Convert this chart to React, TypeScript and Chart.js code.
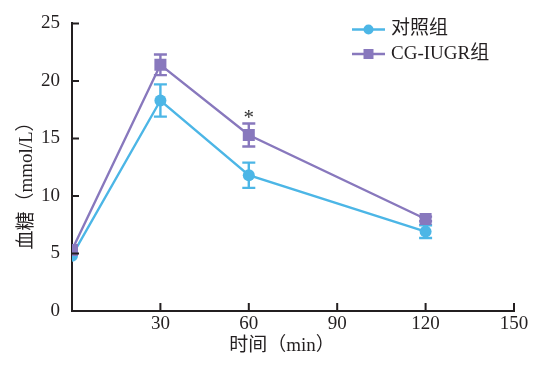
import React, { useEffect, useRef } from "react";
import { Chart, registerables } from "chart.js";

Chart.register(...registerables);

const timePoints = [0, 30, 60, 120];
const controlMean = [4.8, 18.3, 11.8, 6.9];
const controlSD = [0, 1.4, 1.1, 0.55];
const iugrMean = [5.3, 21.4, 15.3, 8.0];
const iugrSD = [0, 0.9, 1.0, 0.2];
const seriesNames = ["对照组", "CG-IUGR组"];
const xTicks = [30, 60, 90, 120, 150];
const yTicks = [0, 5, 10, 15, 20, 25];
const xTitle = "时间（min）";
const yTitle = "血糖（mmol/L）";
const starAt = { x: 60, y: 17.0, text: "*" };

const BLUE = "#4cb6e6";
const PURPLE = "#8878bd";
const INK = "#231f20";
const SERIF = "'Liberation Serif', 'Noto Sans CJK SC', serif";
const CJK = "'Liberation Serif', 'Noto Sans CJK SC', serif";

export default function App() {
  const ref = useRef<HTMLCanvasElement | null>(null);
  useEffect(() => {
    const canvas = ref.current!;
    const sdMap = [controlSD, iugrSD];

    const overlay = {
      id: "overlay",
      beforeDatasetsDraw(chart: any) {
        const ctx = chart.ctx;
        const xs = chart.scales.x;
        const ys = chart.scales.y;
        chart.data.datasets.forEach((ds: any, i: number) => {
          const sd = sdMap[i];
          ctx.save();
          ctx.strokeStyle = ds.borderColor;
          ctx.lineWidth = 2.4;
          ds.data.forEach((p: any, j: number) => {
            if (!sd[j]) return;
            const px = xs.getPixelForValue(p.x);
            const top = ys.getPixelForValue(p.y + sd[j]);
            const bot = ys.getPixelForValue(p.y - sd[j]);
            ctx.beginPath();
            ctx.moveTo(px, top);
            ctx.lineTo(px, bot);
            ctx.moveTo(px - 6.5, top);
            ctx.lineTo(px + 6.5, top);
            ctx.moveTo(px - 6.5, bot);
            ctx.lineTo(px + 6.5, bot);
            ctx.stroke();
          });
          ctx.restore();
        });
      },
      afterDraw(chart: any) {
        const ctx = chart.ctx;
        const xs = chart.scales.x;
        const ys = chart.scales.y;
        const area = chart.chartArea;
        ctx.save();
        // inward ticks
        ctx.strokeStyle = INK;
        ctx.lineWidth = 2;
        ctx.beginPath();
        yTicks.forEach((v) => {
          if (v === 0) return;
          const py = ys.getPixelForValue(v);
          ctx.moveTo(area.left, py);
          ctx.lineTo(area.left + 7, py);
        });
        xTicks.forEach((v) => {
          const px = xs.getPixelForValue(v);
          ctx.moveTo(px, area.bottom);
          ctx.lineTo(px, area.bottom - 8);
        });
        ctx.stroke();

        // asterisk
        ctx.fillStyle = "#333";
        ctx.font = `21px ${SERIF}`;
        ctx.textAlign = "center";
        ctx.textBaseline = "middle";
        ctx.fillText(starAt.text, xs.getPixelForValue(starAt.x), ys.getPixelForValue(starAt.y) + 3);

        // titles
        ctx.fillStyle = INK;
        ctx.font = `19px ${CJK}`;
        ctx.fillText(xTitle, 282, 346);
        ctx.save();
        ctx.translate(27, 181);
        ctx.rotate(-Math.PI / 2);
        ctx.fillText(yTitle, 0, 0);
        ctx.restore();

        // legend
        const rows = [
          { name: seriesNames[0], color: BLUE, style: "circle", y: 29.5 },
          { name: seriesNames[1], color: PURPLE, style: "rect", y: 54 },
        ];
        rows.forEach((r) => {
          ctx.strokeStyle = r.color;
          ctx.fillStyle = r.color;
          ctx.lineWidth = 2.4;
          ctx.beginPath();
          ctx.moveTo(352, r.y);
          ctx.lineTo(385, r.y);
          ctx.stroke();
          ctx.beginPath();
          if (r.style === "circle") {
            ctx.arc(368.5, r.y, 5, 0, Math.PI * 2);
          } else {
            ctx.rect(363.5, r.y - 5, 10, 10);
          }
          ctx.fill();
          ctx.fillStyle = INK;
          ctx.textAlign = "left";
          ctx.textBaseline = "middle";
          ctx.font = `19px ${CJK}`;
          ctx.fillText(r.name, 391, r.y);
        });
        ctx.restore();
      },
    };

    const chart = new Chart(canvas, {
      type: "line",
      data: {
        datasets: [
          {
            label: seriesNames[0],
            data: timePoints.map((x, i) => ({ x, y: controlMean[i] })),
            borderColor: BLUE,
            backgroundColor: BLUE,
            borderWidth: 2.4,
            pointStyle: "circle",
            pointRadius: 6,
            pointBorderWidth: 0,
            order: 1,
          },
          {
            label: seriesNames[1],
            data: timePoints.map((x, i) => ({ x, y: iugrMean[i] })),
            borderColor: PURPLE,
            backgroundColor: PURPLE,
            borderWidth: 2.4,
            pointStyle: "rect",
            pointRadius: 8.5,
            pointBorderWidth: 0,
            order: 0,
          },
        ],
      },
      options: {
        responsive: false,
        animation: false,
        devicePixelRatio: 1,
        layout: { padding: { left: 0, top: 17, right: 19, bottom: 0 } },
        plugins: { legend: { display: false }, tooltip: { enabled: false } },
        scales: {
          x: {
            type: "linear",
            min: 0,
            max: 150,
            afterFit: (s: any) => {
              s.height = 58;
            },
            afterBuildTicks: (s: any) => {
              s.ticks = [0, ...xTicks].map((v) => ({ value: v }));
            },
            grid: { display: false, drawTicks: false },
            border: { display: true, color: INK, width: 2 },
            ticks: {
              padding: 2,
              color: INK,
              font: { family: SERIF, size: 19 },
              callback: (v: any) => (v === 0 ? "" : String(v)),
              maxRotation: 0,
            },
          },
          y: {
            min: 0,
            max: 25,
            afterFit: (s: any) => {
              s.width = 72;
            },
            afterBuildTicks: (s: any) => {
              s.ticks = yTicks.map((v) => ({ value: v }));
            },
            grid: { display: false, drawTicks: false },
            border: { display: true, color: INK, width: 2 },
            ticks: {
              padding: 12,
              color: INK,
              font: { family: SERIF, size: 19 },
            },
          },
        },
      },
      plugins: [overlay],
    } as any);
    return () => chart.destroy();
  }, []);

  return (
    <div style={{ position: "fixed", left: 0, top: 0, width: 533, height: 369, background: "#fff" }}>
      <canvas ref={ref} width={533} height={369} />
    </div>
  );
}
